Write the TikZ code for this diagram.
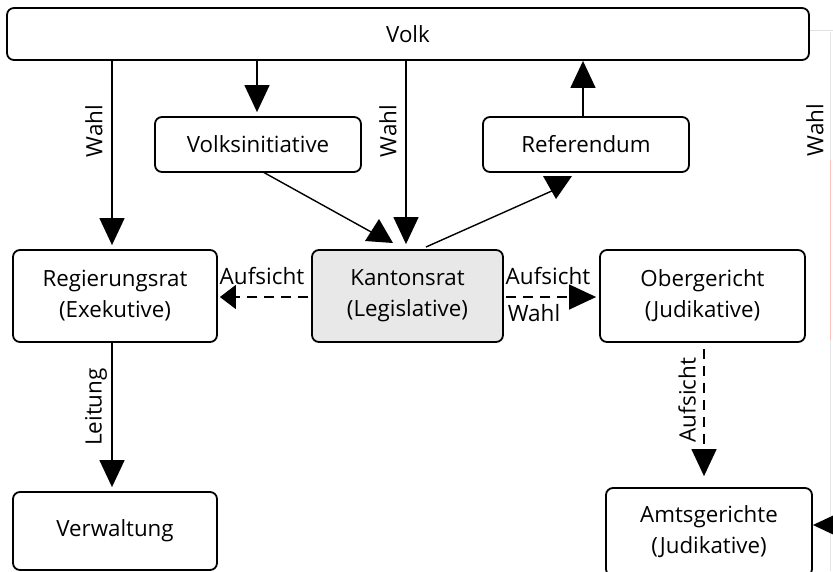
\documentclass[tikz,border=0pt]{standalone}
\usepackage{fontspec}
\setmainfont{Open Sans}
\usetikzlibrary{arrows.meta}
\begin{document}
\begin{tikzpicture}[x=1pt,y=-1pt,
  box/.style={draw=black, line width=1.8pt, rounded corners=7pt, align=center,
    inner sep=0pt, font=\fontsize{22.3}{31}\selectfont},
  lbl/.style={font=\fontsize{22.5}{26}\selectfont, inner sep=0pt},
  conn/.style={line width=1.4pt},
  arr/.style={conn, -{Triangle[length=27pt,width=25pt]}},
  darr/.style={conn, dash pattern=on 10pt off 7pt, -{Triangle[length=27pt,width=25pt]}},
  tri/.style={fill=black}
]
\useasboundingbox (0,0) rectangle (833,571);
% faint right edge artefacts
\draw[black!12, line width=0.8pt] (808,30) -- (833,30);
\draw[black!10, line width=1pt] (830,32) -- (830,571);
\draw[red!25, line width=1pt] (830,160) -- (830,340);

% boxes
\node[box, minimum width=802pt, minimum height=52pt] (volk) at (408,34) {Volk};
\node[box, minimum width=206pt, minimum height=55pt] (vi) at (258,144.5) {Volksinitiative};
\node[box, minimum width=206pt, minimum height=55pt] (ref) at (586,144.5) {Referendum};
\node[box, minimum width=204pt, minimum height=92pt] (reg) at (115,296) {Regierungsrat\\(Exekutive)};
\node[box, fill=black!9, minimum width=191pt, minimum height=92pt] (kr) at (407.5,296) {Kantonsrat\\(Legislative)};
\node[box, minimum width=205pt, minimum height=92pt] (og) at (702.5,296) {Obergericht\\(Judikative)};
\node[box, minimum width=204pt, minimum height=78pt] (vw) at (115,531) {Verwaltung};
\node[box, minimum width=206pt, minimum height=88pt] (ag) at (709,532) {Amtsgerichte\\(Judikative)};

% helper coordinates
\coordinate (x1) at (112,0);
\coordinate (x2) at (257,0);
\coordinate (x3) at (406,0);
\coordinate (x4) at (583,0);
\coordinate (x5) at (704,0);
\coordinate (vistart) at (263,172);
\coordinate (viend) at (373,233);
\coordinate (krstart) at (426,247);
\coordinate (refend) at (554,190);
\coordinate (edge) at (840,525);

% connectors
\draw[arr, shorten >=4pt] (volk.south -| x1) -- (reg.north -| x1);
\draw[arr, shorten >=4pt] (volk.south -| x2) -- (vi.north -| x2);
\draw[arr, shorten >=5pt] (volk.south -| x3) -- (kr.north -| x3);
\draw[arr] (ref.north -| x4) -- (volk.south -| x4);
\draw[conn] (vistart) -- (viend);
\fill[tri] (365,241) -- (393,243) -- (379,219) -- cycle;
\draw[conn] (krstart) -- (refend);
\fill[tri] (543,176) -- (572,176) -- (556,199) -- cycle;
\draw[conn, dash pattern=on 10pt off 7pt, -{Triangle[length=16pt,width=24pt]}, shorten <=3pt, shorten >=2pt] (kr.west |- 0,297) -- (reg.east |- 0,297);
\draw[darr, shorten <=2pt, shorten >=3pt] (kr.east |- 0,297) -- (og.west |- 0,297);
\draw[arr, shorten >=4pt] (reg.south -| x1) -- (vw.north -| x1);
\draw[darr, shorten <=6pt, shorten >=11pt] (og.south -| x5) -- (ag.north -| x5);
\draw[arr, shorten >=0pt] (edge) -- (ag.east |- edge);

% labels
\node[lbl, rotate=90] (w1) at (94,131) {Wahl};
\node[lbl, rotate=90] (w2) at (388,131) {Wahl};
\node[lbl, rotate=90] (w3) at (815,130) {Wahl};
\node[lbl, rotate=90] (le) at (96,407) {Leitung};
\node[lbl, rotate=90] (au3) at (687,400) {Aufsicht};
\node[lbl] (au1) at (262,276) {Aufsicht};
\node[lbl] (au2) at (548,276) {Aufsicht};
\node[lbl] (w4) at (534,313) {Wahl};
\end{tikzpicture}
\end{document}
